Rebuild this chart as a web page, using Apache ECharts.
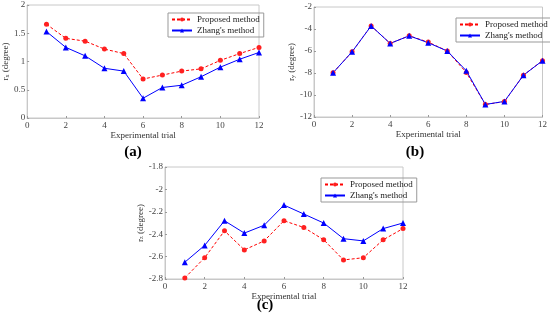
<!DOCTYPE html>
<html><head><meta charset="utf-8">
<script src="https://cdn.jsdelivr.net/npm/echarts@6/dist/echarts.min.js"></script>
<style>html,body{margin:0;padding:0;background:#fff}#c{width:550px;height:321px}</style>
</head><body><div id="c"></div>
<script>
const trials = [1,2,3,4,5,6,7,8,9,10,11,12];
const xTicks = [0,2,4,6,8,10,12];
const propA = [1.66,1.41,1.36,1.22,1.14,0.69,0.76,0.83,0.87,1.02,1.14,1.25];
const zhangA = [1.53,1.25,1.10,0.88,0.83,0.35,0.54,0.58,0.73,0.90,1.04,1.16];
const propB = [-7.98,-6.07,-3.72,-5.31,-4.62,-5.19,-6.0,-7.96,-10.86,-10.6,-8.2,-6.88];
const zhangB = [-7.98,-6.07,-3.72,-5.31,-4.62,-5.25,-6.0,-7.8,-10.86,-10.58,-8.2,-6.88];
const propC = [-2.79,-2.61,-2.37,-2.54,-2.46,-2.28,-2.34,-2.45,-2.63,-2.61,-2.45,-2.35];
const zhangC = [-2.65,-2.50,-2.28,-2.39,-2.32,-2.14,-2.22,-2.30,-2.44,-2.46,-2.35,-2.30];
const yA = {min:0,max:2,interval:0.5};
const yB = {min:-12,max:-2,interval:2};
const yC = {min:-2.8,max:-1.8,interval:0.2};
const names = ['Proposed method',"Zhang's method"];
const panelLabels = ['(a)','(b)','(c)'];
const yNames = ['x','y','z'];

const font = 'Liberation Serif, Times New Roman, serif';
const grids = [
  {left:24, top:5, width:235, height:113},
  {left:314, top:7, width:232, height:110},
  {left:165, top:167, width:238, height:112}
];
const yRanges = [yA,yB,yC];
const data = [[propA,zhangA],[propB,zhangB],[propC,zhangC]];
const legendPos = [{left:168,top:13},{left:456,top:18},{left:321,top:178}];
const labelPos = [{left:133,top:145},{left:415,top:145},{left:265,top:298}];
const xGaps = [10,10,9];
const yGaps = [12,17,20];

const option = {
  animation:false,
  backgroundColor:'#fff',
  textStyle:{fontFamily:font},
  grid: grids.map(g=>Object.assign({show:true,borderColor:'#c8c8c8',borderWidth:1,backgroundColor:'transparent'},g)),
  title: labelPos.map((p,i)=>({text:panelLabels[i],left:p.left,top:p.top,textAlign:'center',padding:0,
    textStyle:{fontFamily:font,fontSize:15,fontWeight:'bold',color:'#000'}})),
  xAxis: grids.map((g,i)=>({type:'value',gridIndex:i,min:xTicks[0],max:xTicks[xTicks.length-1],interval:2,
    name:'Experimental trial',nameLocation:'middle',nameGap:xGaps[i],
    nameTextStyle:{fontFamily:font,fontSize:9,color:'#333'},
    axisLine:{lineStyle:{color:'#c8c8c8'}},
    axisTick:{inside:true,length:2,lineStyle:{color:'#999'}},
    axisLabel:{fontFamily:font,fontSize:9,color:'#444',margin:3},
    splitLine:{show:false}})),
  yAxis: grids.map((g,i)=>({type:'value',gridIndex:i,min:yRanges[i].min,max:yRanges[i].max,interval:yRanges[i].interval,
    name:'{a|r}{s|'+yNames[i]+'}{a| (degree)}',nameLocation:'middle',nameRotate:90,nameGap:yGaps[i],
    nameTextStyle:{fontFamily:font,fontSize:9,color:'#333',rich:{a:{fontFamily:font,fontSize:9,color:'#333'},s:{fontFamily:font,fontSize:6,color:'#333',verticalAlign:'bottom'}}},
    axisLine:{lineStyle:{color:'#c8c8c8'}},
    axisTick:{inside:true,length:2,lineStyle:{color:'#999'}},
    axisLabel:{fontFamily:font,fontSize:9,color:'#444',margin:2},
    splitLine:{show:false}})),
  legend: legendPos.map((p,i)=>({left:p.left,top:p.top,orient:'vertical',data:names,
    borderColor:'#999',borderWidth:1,borderRadius:0,padding:[2,4,2,3],itemGap:2,itemWidth:20,itemHeight:5,
    textStyle:{fontFamily:font,fontSize:9,color:'#222'},selectedMode:false})),
  series: []
};
data.forEach((pair,i)=>{
  option.series.push({name:names[0],type:'line',xAxisIndex:i,yAxisIndex:i,
    data:trials.map((t,k)=>[t,pair[0][k]]),symbol:'circle',symbolSize:5,
    lineStyle:{color:'#ff0000',width:1,type:[3,2]},itemStyle:{color:'#ff2020'}});
  option.series.push({name:names[1],type:'line',xAxisIndex:i,yAxisIndex:i,
    data:trials.map((t,k)=>[t,pair[1][k]]),symbol:'triangle',symbolSize:6,
    lineStyle:{color:'#0000ff',width:1},itemStyle:{color:'#0000ff'}});
});
const chart = echarts.init(document.getElementById('c'),null,{renderer:'canvas'});
chart.setOption(option);
</script></body></html>
